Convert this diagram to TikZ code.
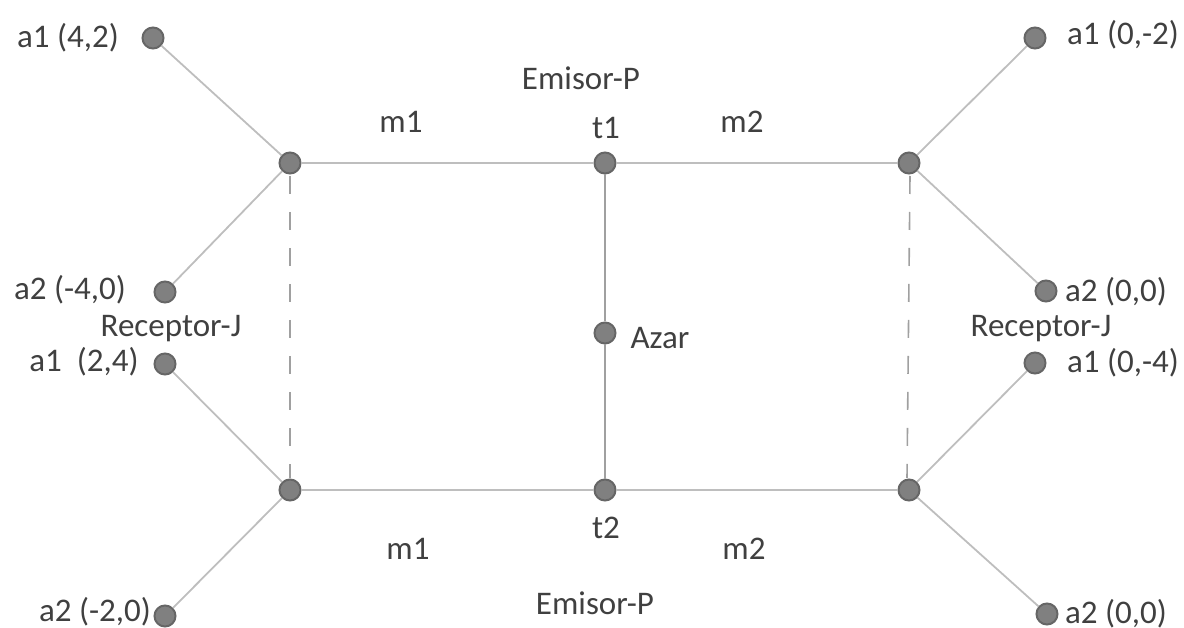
\documentclass[tikz,border=0pt]{standalone}
\usepackage{fontspec}
\setmainfont{Carlito}
\definecolor{dotfill}{HTML}{808080}
\definecolor{dotedge}{HTML}{666666}
\definecolor{linegray}{HTML}{BEBEBE}
\definecolor{midgray}{HTML}{A0A0A0}
\definecolor{txt}{HTML}{404040}
\begin{document}
\begin{tikzpicture}[x=1pt,y=-1pt,
  dot/.style={circle,fill=dotfill,draw=dotedge,line width=2pt,minimum size=21pt,inner sep=0pt},
  lbl/.style={text=txt,font=\fontsize{33}{40}\selectfont,inner sep=0pt},
  edge/.style={draw=linegray,line width=1.8pt},
  midedge/.style={draw=midgray,line width=2pt},
  dashedge/.style={draw=midgray,line width=1.6pt,dash pattern=on 18pt off 18pt}]
\useasboundingbox (0,0) rectangle (1184,628);
% main nodes
\node[dot] (lt) at (290,163) {};
\node[dot] (t1) at (605,163) {};
\node[dot] (rt) at (909,163) {};
\node[dot] (lb) at (290,490) {};
\node[dot] (t2) at (605,490) {};
\node[dot] (rb) at (909,490) {};
\node[dot] (az) at (605,333) {};
% leaves
\node[dot] (la1) at (153,38) {};
\node[dot] (la2) at (165,292) {};
\node[dot] (lb1) at (165,364) {};
\node[dot] (lb2) at (165,616) {};
\node[dot] (ra1) at (1035,38) {};
\node[dot] (ra2) at (1046,291) {};
\node[dot] (rb1) at (1035,363) {};
\node[dot] (rb2) at (1047,614) {};
% coordinates for dashed lines
\coordinate (ltd) at (290,176);
\coordinate (lbd) at (290,478);
\coordinate (rtd) at (910,176);
\coordinate (rbd) at (907,478);
% edges
\begin{scope}[on background layer/.style={}]
\draw[edge] (lt) -- (t1);
\draw[edge] (t1) -- (rt);
\draw[edge] (lb) -- (t2);
\draw[edge] (t2) -- (rb);
\draw[midedge] (t1) -- (az);
\draw[midedge] (az) -- (t2);
\draw[edge] (la1) -- (lt);
\draw[edge] (la2) -- (lt);
\draw[edge] (lb1) -- (lb);
\draw[edge] (lb2) -- (lb);
\draw[edge] (ra1) -- (rt);
\draw[edge] (ra2) -- (rt);
\draw[edge] (rb1) -- (rb);
\draw[edge] (rb2) -- (rb);
\draw[dashedge] (ltd) -- (lbd);
\draw[dashedge] (rtd) -- (rbd);
\end{scope}
% labels
\node[lbl] (l1) at (68,38) {a1 (4,2)};
\node[lbl] (l2) at (70,290) {a2 (-4,0)};
\node[lbl] (l3) at (171,329) {Receptor-J};
\node[lbl] (l4) at (84,362) {a1\ \ (2,4)};
\node[lbl] (l5) at (95,612) {a2 (-2,0)};
\node[lbl] (l6) at (581,78) {Emisor-P};
\node[lbl] (l7) at (401,122) {m1};
\node[lbl] (l8) at (606,128) {t1};
\node[lbl] (l9) at (742,122) {m2};
\node[lbl] (l10) at (660,338) {Azar};
\node[lbl] (l11) at (408,549) {m1};
\node[lbl] (l12) at (606,528) {t2};
\node[lbl] (l13) at (744,549) {m2};
\node[lbl] (l14) at (595,603) {Emisor-P};
\node[lbl] (l15) at (1123,35) {a1 (0,-2)};
\node[lbl] (l16) at (1116,292) {a2 (0,0)};
\node[lbl] (l17) at (1041,329) {Receptor-J};
\node[lbl] (l18) at (1123,363) {a1 (0,-4)};
\node[lbl] (l19) at (1116,614) {a2 (0,0)};
\end{tikzpicture}
\end{document}
